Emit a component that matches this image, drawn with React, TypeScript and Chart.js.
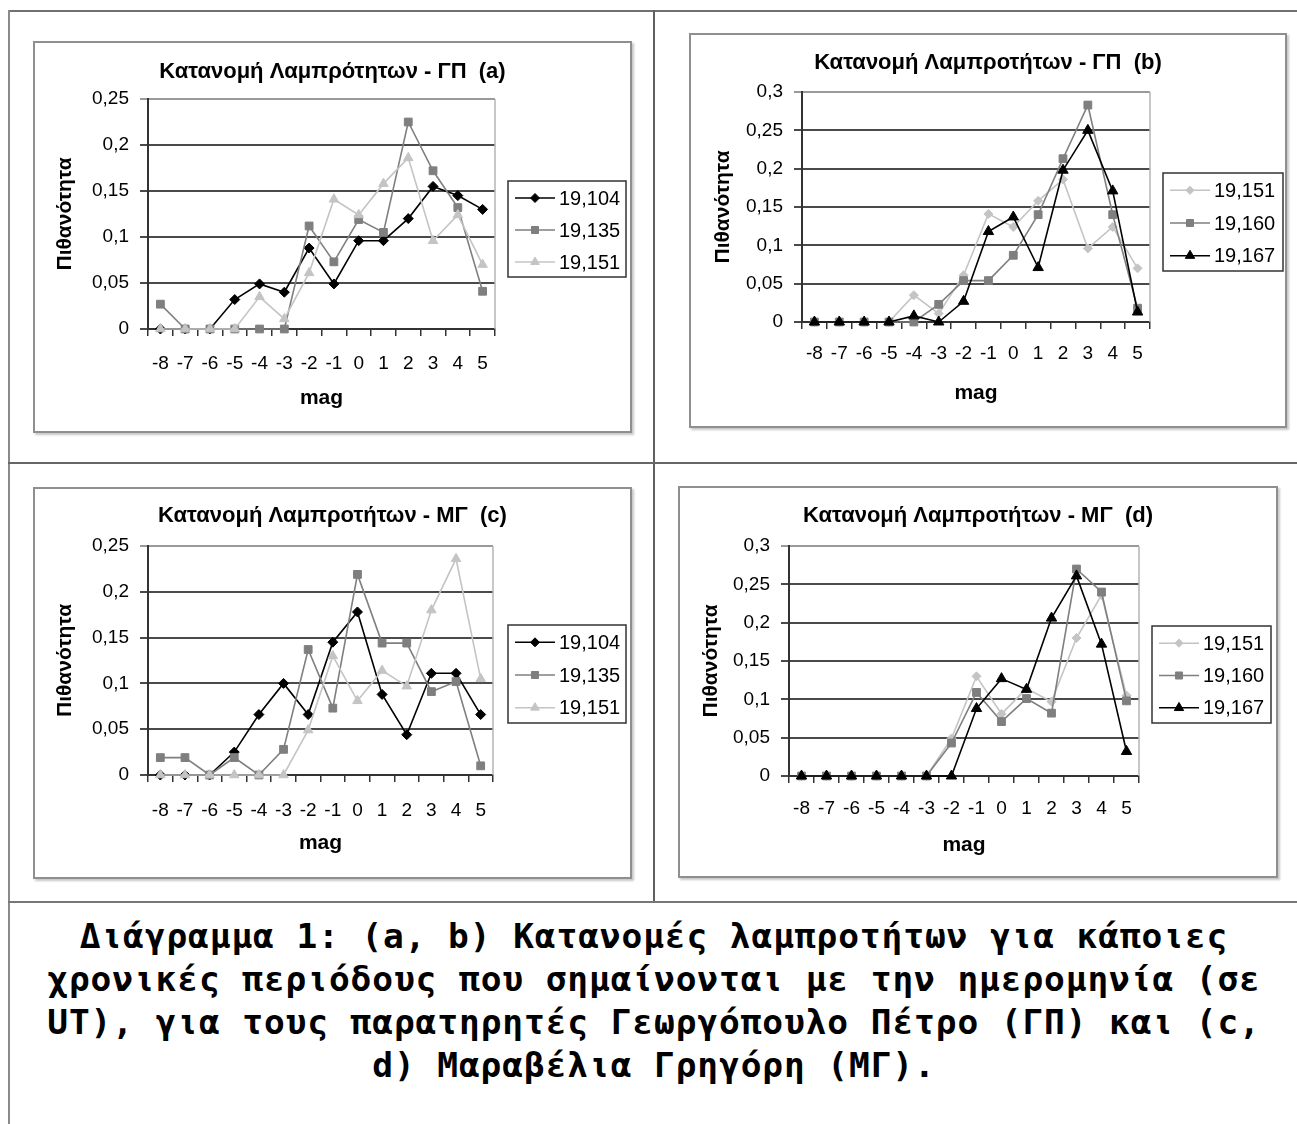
import React, { useEffect, useRef } from "react";
import { Chart, registerables } from "chart.js";

Chart.register(...registerables);

// ---------------- DATA ----------------
const mags = ["-8", "-7", "-6", "-5", "-4", "-3", "-2", "-1", "0", "1", "2", "3", "4", "5"];

// (a) ΓΠ
const gp19104 = [0, 0, 0, 0.032, 0.049, 0.04, 0.088, 0.049, 0.096, 0.096, 0.12, 0.155, 0.145, 0.13];
const gp19135 = [0.027, 0, 0, 0, 0, 0, 0.112, 0.073, 0.119, 0.105, 0.225, 0.172, 0.132, 0.041];
const gp19151 = [0, 0, 0, 0, 0.035, 0.011, 0.061, 0.141, 0.124, 0.158, 0.186, 0.096, 0.124, 0.07];
// (b) ΓΠ
const gp19160 = [0, 0, 0, 0, 0, 0.023, 0.054, 0.054, 0.087, 0.14, 0.213, 0.283, 0.14, 0.018];
const gp19167 = [0, 0, 0, 0, 0.008, 0, 0.027, 0.118, 0.137, 0.071, 0.198, 0.25, 0.171, 0.013];
// (c) ΜΓ
const mg19104 = [0, 0, 0, 0.025, 0.066, 0.1, 0.066, 0.145, 0.178, 0.088, 0.044, 0.111, 0.111, 0.066];
const mg19135 = [0.019, 0.019, 0, 0.019, 0, 0.028, 0.137, 0.073, 0.219, 0.144, 0.144, 0.091, 0.102, 0.01];
const mg19151 = [0, 0, 0, 0, 0, 0, 0.049, 0.13, 0.081, 0.114, 0.097, 0.18, 0.236, 0.105];
// (d) ΜΓ
const mg19160 = [0, 0, 0, 0, 0, 0, 0.043, 0.109, 0.071, 0.101, 0.082, 0.27, 0.24, 0.098];
const mg19167 = [0, 0, 0, 0, 0, 0, 0, 0.088, 0.127, 0.113, 0.206, 0.261, 0.172, 0.032];

const titles = [
  "Κατανομή Λαμπρότητων - ΓΠ  (a)",
  "Κατανομή Λαμπροτήτων - ΓΠ  (b)",
  "Κατανομή Λαμπροτήτων - ΜΓ  (c)",
  "Κατανομή Λαμπροτήτων - ΜΓ  (d)",
];
const yTitle = "Πιθανότητα";
const xTitle = "mag";

const captionLines = [
  "Διάγραμμα 1: (a, b) Κατανομές λαμπροτήτων για κάποιες",
  "χρονικές περιόδους που σημαίνονται με την ημερομηνία (σε",
  "UT), για τους παρατηρητές Γεωργόπουλο Πέτρο (ΓΠ) και (c,",
  "d) Μαραβέλια Γρηγόρη (ΜΓ).",
];

// ---------------- STYLES ----------------
const FONT = "'Liberation Sans', Arial, sans-serif";
const BLACK = "#000000";
const GRAY = "#7f7f7f";
const LIGHT = "#c4c4c4";

type Series = { name: string; data: number[]; color: string; marker: string; radius: number };
type Geo = {
  left: number; top: number; w: number; h: number;
  plotLeft: number; plotRight: number; plotTop: number; plotBottom: number;
  titleY: number; yTitleX: number; xLabelY: number; magY: number;
  legendTop: number; legendH: number; legendW: number; legendGap: number;
};
type Spec = { title: string; yMax: number; series: Series[]; geo: Geo };

const specs: Spec[] = [
  {
    title: titles[0], yMax: 0.25,
    series: [
      { name: "19,104", data: gp19104, color: BLACK, marker: "rectRot", radius: 5 },
      { name: "19,135", data: gp19135, color: GRAY, marker: "rect", radius: 5.5 },
      { name: "19,151", data: gp19151, color: LIGHT, marker: "triangle", radius: 5.5 },
    ],
    geo: {
      left: 33, top: 41, w: 599, h: 392,
      plotLeft: 113, plotRight: 460, plotTop: 56, plotBottom: 286,
      titleY: 29, yTitleX: 30, xLabelY: 321, magY: 355,
      legendTop: 138, legendH: 96, legendW: 118, legendGap: 13,
    },
  },
  {
    title: titles[1], yMax: 0.3,
    series: [
      { name: "19,151", data: gp19151, color: LIGHT, marker: "rectRot", radius: 4.5 },
      { name: "19,160", data: gp19160, color: GRAY, marker: "rect", radius: 5.5 },
      { name: "19,167", data: gp19167, color: BLACK, marker: "triangle", radius: 6 },
    ],
    geo: {
      left: 689, top: 33, w: 598, h: 395,
      plotLeft: 111, plotRight: 459, plotTop: 57, plotBottom: 287,
      titleY: 28, yTitleX: 32, xLabelY: 319, magY: 358,
      legendTop: 138, legendH: 98, legendW: 120, legendGap: 13,
    },
  },
  {
    title: titles[2], yMax: 0.25,
    series: [
      { name: "19,104", data: mg19104, color: BLACK, marker: "rectRot", radius: 5 },
      { name: "19,135", data: mg19135, color: GRAY, marker: "rect", radius: 5.5 },
      { name: "19,151", data: mg19151, color: LIGHT, marker: "triangle", radius: 5.5 },
    ],
    geo: {
      left: 33, top: 487, w: 599, h: 392,
      plotLeft: 113, plotRight: 458, plotTop: 57, plotBottom: 286,
      titleY: 27, yTitleX: 30, xLabelY: 322, magY: 354,
      legendTop: 136, legendH: 98, legendW: 118, legendGap: 15,
    },
  },
  {
    title: titles[3], yMax: 0.3,
    series: [
      { name: "19,151", data: mg19151, color: LIGHT, marker: "rectRot", radius: 4.5 },
      { name: "19,160", data: mg19160, color: GRAY, marker: "rect", radius: 5.5 },
      { name: "19,167", data: mg19167, color: BLACK, marker: "triangle", radius: 6 },
    ],
    geo: {
      left: 678, top: 486, w: 600, h: 392,
      plotLeft: 109, plotRight: 459, plotTop: 58, plotBottom: 288,
      titleY: 28, yTitleX: 31.5, xLabelY: 321, magY: 357,
      legendTop: 138, legendH: 97, legendW: 119, legendGap: 13,
    },
  },
];

function drawMarker(ctx: CanvasRenderingContext2D, style: string, x: number, y: number, r: number, color: string) {
  ctx.save();
  ctx.fillStyle = color;
  ctx.strokeStyle = color;
  ctx.lineWidth = 1;
  ctx.beginPath();
  if (style === "rectRot") {
    ctx.moveTo(x - r, y);
    ctx.lineTo(x, y - r);
    ctx.lineTo(x + r, y);
    ctx.lineTo(x, y + r);
  } else if (style === "rect") {
    const s = r * Math.SQRT1_2;
    ctx.rect(x - s, y - s, 2 * s, 2 * s);
  } else {
    ctx.moveTo(x, y - r);
    ctx.lineTo(x + r * 0.866, y + r * 0.5);
    ctx.lineTo(x - r * 0.866, y + r * 0.5);
  }
  ctx.closePath();
  ctx.fill();
  ctx.stroke();
  ctx.restore();
}

function buildConfig(spec: Spec): any {
  const g = spec.geo;
  const cw = g.w - 4;
  const ch = g.h - 4;
  const titleLH = 22 * 1.2;
  const axisLH = 21 * 1.2;
  const tickLH = 19 * 1.2;

  const framePlugin = {
    id: "plotFrame",
    beforeDatasetsDraw(chart: any) {
      const { ctx, chartArea } = chart;
      ctx.save();
      ctx.strokeStyle = "#b4b4b4";
      ctx.lineWidth = 1.5;
      ctx.beginPath();
      ctx.moveTo(chartArea.right, chartArea.top);
      ctx.lineTo(chartArea.right, chartArea.bottom);
      ctx.stroke();
      ctx.restore();
    },
  };

  const legendPlugin = {
    id: "boxLegend",
    afterDraw(chart: any) {
      const { ctx, chartArea } = chart;
      const x0 = chartArea.right + g.legendGap;
      const y0 = g.legendTop;
      ctx.save();
      ctx.fillStyle = "#ffffff";
      ctx.fillRect(x0, y0, g.legendW, g.legendH);
      ctx.strokeStyle = "#333333";
      ctx.lineWidth = 1.5;
      ctx.strokeRect(x0, y0, g.legendW, g.legendH);
      spec.series.forEach((s, i) => {
        const cy = y0 + (g.legendH * (2 * i + 1)) / 6 + 1;
        ctx.strokeStyle = s.color;
        ctx.lineWidth = 1.5;
        ctx.beginPath();
        ctx.moveTo(x0 + 7, cy);
        ctx.lineTo(x0 + 47, cy);
        ctx.stroke();
        drawMarker(ctx, s.marker, x0 + 27, cy, s.radius * 0.9, s.color);
        ctx.fillStyle = "#000";
        ctx.font = `20px ${FONT}`;
        ctx.textAlign = "left";
        ctx.textBaseline = "middle";
        ctx.fillText(s.name, x0 + 51, cy + 1);
      });
      ctx.restore();
    },
  };

  const n = spec.series.length;
  return {
    type: "line",
    data: {
      labels: mags,
      datasets: spec.series.map((s, i) => ({
        label: s.name,
        data: s.data,
        borderColor: s.color,
        backgroundColor: s.color,
        pointBackgroundColor: s.color,
        pointBorderColor: s.color,
        pointStyle: s.marker,
        pointRadius: s.radius,
        pointBorderWidth: 1,
        borderWidth: 1.6,
        tension: 0,
        clip: false,
        order: n - i,
        yAxisID: "y",
      })),
    },
    options: {
      responsive: false,
      maintainAspectRatio: false,
      animation: false,
      devicePixelRatio: 1,
      events: [],
      layout: { padding: 0 },
      plugins: {
        legend: { display: false },
        tooltip: { enabled: false },
        title: {
          display: true,
          text: spec.title,
          color: "#000",
          font: { family: FONT, size: 22, weight: "bold", lineHeight: 1.2 },
          padding: { top: g.titleY - titleLH / 2, bottom: g.plotTop - g.titleY - titleLH / 2 },
        },
      },
      scales: {
        x: {
          type: "category",
          offset: true,
          grid: {
            display: true,
            drawOnChartArea: false,
            drawTicks: true,
            tickLength: 7,
            offset: true,
            color: "#333",
            lineWidth: 1.5,
          },
          border: { display: true, color: "#333", width: 2 },
          ticks: {
            color: "#000",
            font: { family: FONT, size: 19, lineHeight: 1.2 },
            padding: g.xLabelY - g.plotBottom - 7 - tickLH / 2,
            maxRotation: 0,
            minRotation: 0,
            autoSkip: false,
          },
          title: {
            display: true,
            text: xTitle,
            color: "#000",
            font: { family: FONT, size: 21, weight: "bold", lineHeight: 1.2 },
            padding: { top: 0, bottom: ch - g.magY - axisLH / 2 },
          },
          afterFit: (scale: any) => {
            scale.height = ch - g.plotBottom;
          },
        },
        y: {
          type: "linear",
          position: "left",
          min: 0,
          max: spec.yMax,
          grid: {
            display: true,
            drawTicks: true,
            tickLength: 8,
            color: (c: any) => (c.tick && c.tick.value > spec.yMax - 1e-9 ? "#9a9a9a" : "#4a4a4a"),
            lineWidth: 2,
          },
          border: { display: true, color: "#333", width: 2 },
          ticks: {
            stepSize: 0.05,
            color: "#000",
            font: { family: FONT, size: 19 },
            padding: 11,
            callback: (v: any) => String(+Number(v).toFixed(2)).replace(".", ","),
          },
          title: {
            display: true,
            text: yTitle,
            color: "#000",
            font: { family: FONT, size: 21, weight: "bold", lineHeight: 1.2 },
            padding: { top: g.yTitleX - axisLH / 2, bottom: 0 },
          },
          afterFit: (scale: any) => {
            scale.width = g.plotLeft;
          },
        },
        yRight: {
          type: "linear",
          position: "right",
          display: true,
          grid: { display: false, drawTicks: false },
          border: { display: false },
          ticks: { display: false },
          title: { display: false },
          afterFit: (scale: any) => {
            scale.width = cw - g.plotRight;
          },
        },
      },
    },
    plugins: [framePlugin, legendPlugin],
  };
}

function Panel({ spec }: { spec: Spec }) {
  const ref = useRef<HTMLCanvasElement>(null);
  const g = spec.geo;
  useEffect(() => {
    const chart = new Chart(ref.current as HTMLCanvasElement, buildConfig(spec));
    return () => chart.destroy();
  }, [spec]);
  return (
    <div
      style={{
        position: "absolute",
        left: g.left,
        top: g.top,
        width: g.w,
        height: g.h,
        boxSizing: "border-box",
        border: "2px solid #8f8f8f",
        boxShadow: "2px 2px 2px rgba(0,0,0,0.22)",
        background: "#fff",
      }}
    >
      <canvas
        ref={ref}
        width={g.w - 4}
        height={g.h - 4}
        style={{ display: "block", width: g.w - 4, height: g.h - 4 }}
      />
    </div>
  );
}

function Line({ l, t, w, h, c }: { l: number; t: number; w: number; h: number; c: string }) {
  return <div style={{ position: "absolute", left: l, top: t, width: w, height: h, background: c }} />;
}

export default function App() {
  return (
    <div
      style={{
        position: "absolute",
        left: 0,
        top: 0,
        width: 1297,
        height: 1124,
        overflow: "hidden",
        background: "#fff",
      }}
    >
      <Line l={8} t={10} w={1289} h={2} c="#707070" />
      <Line l={8} t={10} w={2} h={1114} c="#8a8a8a" />
      <Line l={653} t={10} w={2} h={892} c="#606060" />
      <Line l={8} t={462} w={1289} h={2} c="#666666" />
      <Line l={8} t={901} w={1289} h={2} c="#777777" />
      {specs.map((s, i) => (
        <Panel key={i} spec={s} />
      ))}
      <div
        style={{
          position: "absolute",
          left: 6,
          top: 915,
          width: 1296,
          textAlign: "center",
          fontFamily: "'DejaVu Sans Mono', monospace",
          fontWeight: "bold",
          fontSize: 34.5,
          letterSpacing: 0.9,
          lineHeight: "43px",
          color: "#000",
          whiteSpace: "pre",
        }}
      >
        {captionLines.map((t, i) => (
          <div key={i}>{t}</div>
        ))}
      </div>
    </div>
  );
}
